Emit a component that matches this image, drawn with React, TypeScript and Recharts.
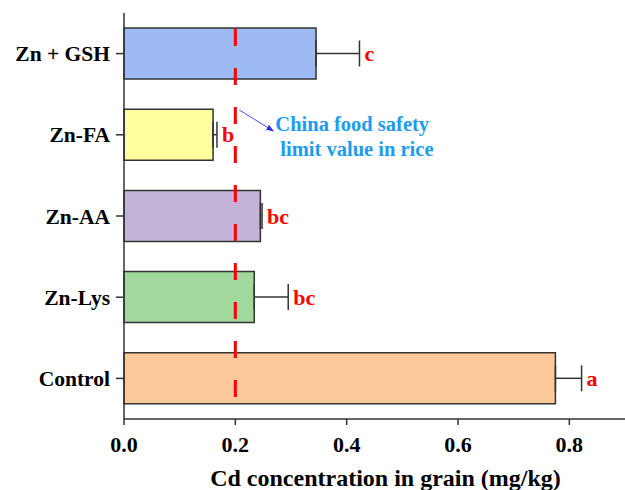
import {
  BarChart,
  Bar,
  Cell,
  XAxis,
  YAxis,
  ErrorBar,
  LabelList,
  ReferenceLine,
} from 'recharts';

const categories = ['Zn + GSH', 'Zn-FA', 'Zn-AA', 'Zn-Lys', 'Control'];
const means = [0.345, 0.16, 0.245, 0.234, 0.775];
const errors = [0.078, 0.007, 0.003, 0.061, 0.047];
const letters = ['c', 'b', 'bc', 'bc', 'a'];
const xTicks = [0, 0.2, 0.4, 0.6, 0.8];
const limitValue = 0.2;

const barColors = ['#9DBBF2', '#FFFF9E', '#C3B3D9', '#A1D99D', '#FBC899'];

const FONT = 'Liberation Serif';
const AXIS = '#333333';

const data = categories.map((name, i) => ({
  name,
  mean: means[i],
  err: [0, errors[i]],
  letter: letters[i],
}));

function LetterLabel(props: any) {
  const { x, y, width, height, index } = props;
  const end = x + (width * (means[index] + errors[index])) / means[index];
  return (
    <text
      x={end + 5}
      y={y + height / 2}
      dy="0.35em"
      fill="#FF0000"
      style={{ fontFamily: FONT, fontWeight: 'bold', fontSize: 22 }}
    >
      {letters[index]}
    </text>
  );
}

function LimitNote(props: any) {
  const { viewBox } = props;
  const lx = viewBox.x;
  return (
    <g>
      <defs>
        <marker id="arr" markerWidth="8" markerHeight="8" refX="7" refY="4" orient="auto">
          <path d="M0,1 L8,4 L0,7 Z" fill="#2F2FF0" />
        </marker>
      </defs>
      <line
        x1={lx + 4}
        y1={110}
        x2={lx + 38}
        y2={131}
        stroke="#4A4AF5"
        strokeWidth={1}
        markerEnd="url(#arr)"
      />
      <text
        fill="#1C9CF0"
        style={{ fontFamily: FONT, fontWeight: 'bold', fontSize: 20.5 }}
      >
        <tspan x={lx + 40} y={131}>China food safety</tspan>
        <tspan x={lx + 45} y={156}>limit value in rice</tspan>
      </text>
    </g>
  );
}

export default function App() {
  return (
    <div
      style={{
        position: 'absolute',
        left: 0,
        top: 0,
        background: '#fff',
        fontFamily: FONT,
      }}
    >
      <BarChart
        width={625}
        height={490}
        data={data}
        layout="vertical"
        margin={{ top: 13, right: 0, left: 0, bottom: 0 }}
        style={{ fontFamily: FONT }}
      >
        <XAxis
          type="number"
          domain={[0, 0.9]}
          ticks={xTicks}
          tickFormatter={(v: number) => v.toFixed(1)}
          height={71}
          tickSize={6}
          tickMargin={11}
          axisLine={{ stroke: AXIS, strokeWidth: 1.5 }}
          tickLine={{ stroke: AXIS, strokeWidth: 1.5 }}
          tick={{ fill: '#000', fontFamily: FONT, fontWeight: 'bold', fontSize: 22 }}
          label={{
            value: 'Cd concentration in grain (mg/kg)',
            position: 'insideBottom',
            offset: 4,
            dx: 11,
            fill: '#000',
            fontFamily: FONT,
            fontWeight: 'bold',
            fontSize: 24,
          }}
        />
        <XAxis
          xAxisId="top"
          orientation="top"
          type="number"
          domain={[0, 0.9]}
          height={0}
          tick={false}
          tickLine={false}
          axisLine={{ stroke: AXIS, strokeWidth: 1.5 }}
        />
        <YAxis
          type="category"
          dataKey="name"
          width={124}
          tickSize={8}
          tickMargin={6}
          axisLine={{ stroke: AXIS, strokeWidth: 1.5 }}
          tickLine={{ stroke: AXIS, strokeWidth: 1.5 }}
          tick={{ fill: '#000', fontFamily: FONT, fontWeight: 'bold', fontSize: 21.5 }}
        />
        <Bar
          dataKey="mean"
          barSize={51}
          stroke={AXIS}
          strokeWidth={1.5}
          isAnimationActive={false}
        >
          {data.map((d, i) => (
            <Cell key={d.name} fill={barColors[i]} />
          ))}
          <ErrorBar
            dataKey="err"
            direction="x"
            width={13}
            stroke={AXIS}
            strokeWidth={1.5}
            isAnimationActive={false}
          />
          <LabelList dataKey="letter" content={LetterLabel} />
        </Bar>
        <ReferenceLine
          x={limitValue}
          stroke="#FF0000"
          strokeWidth={3}
          strokeDasharray="17 22"
          strokeDashoffset={17}
          label={<LimitNote />}
        />
      </BarChart>
    </div>
  );
}
